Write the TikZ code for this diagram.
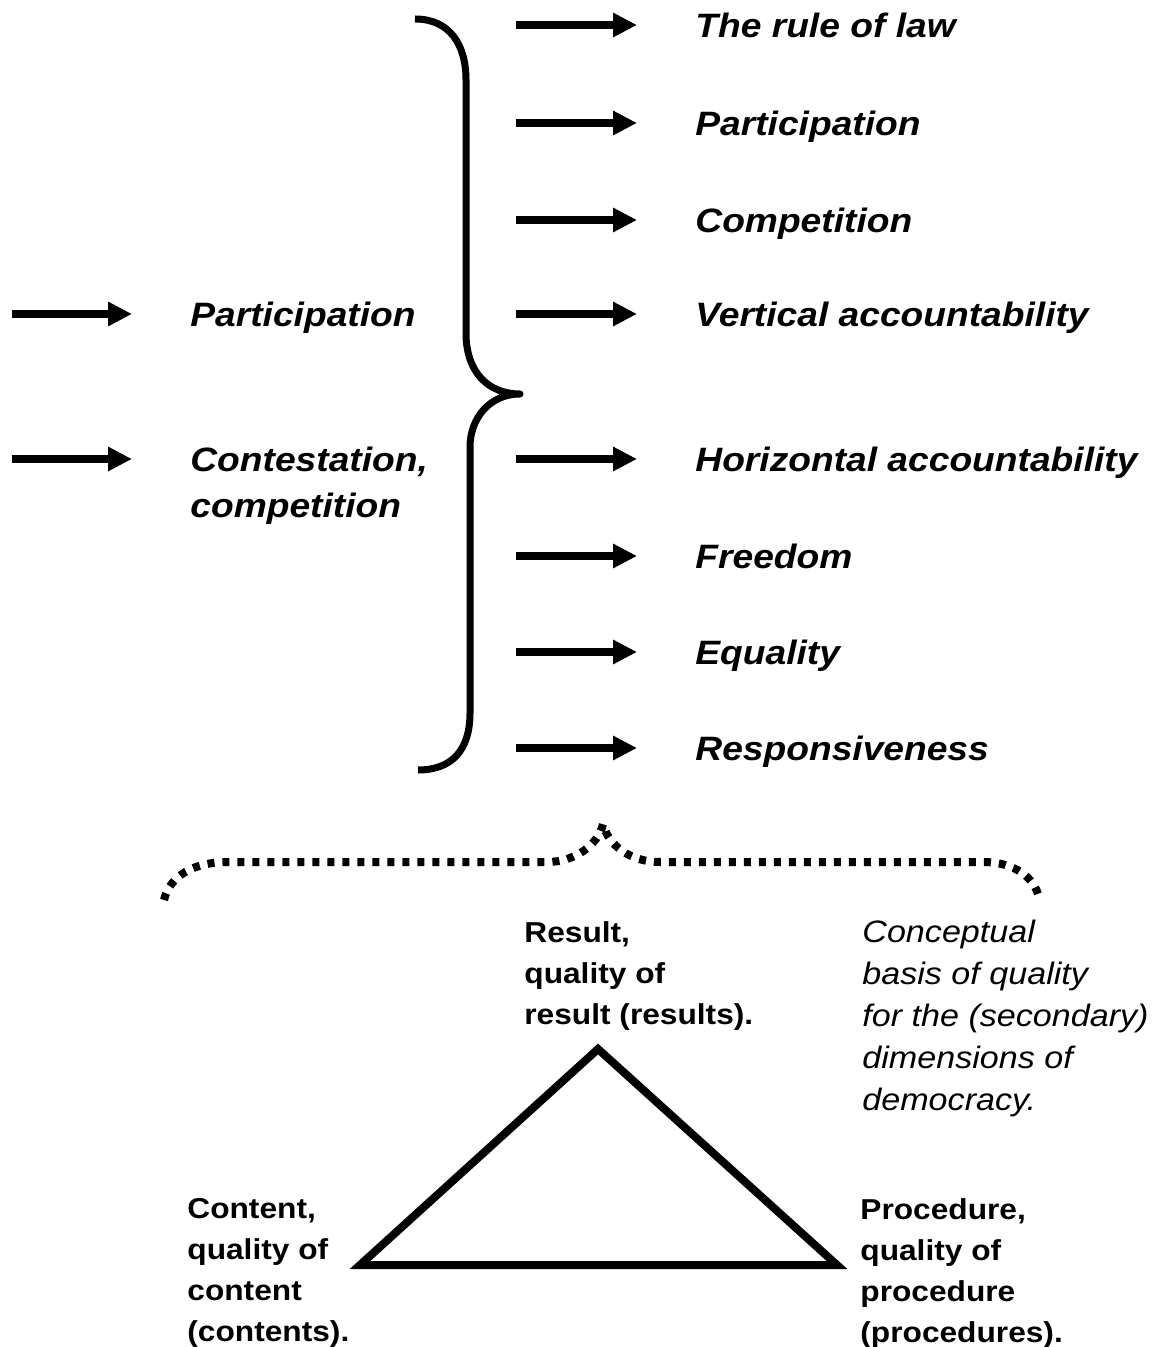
\documentclass[tikz,border=0pt]{standalone}
\usepackage{fontspec}
\setmainfont{Liberation Sans}[FakeStretch=1.1]
\usetikzlibrary{arrows.meta}
\tikzset{
	arr/.style={line width=4pt, -{Triangle[length=12pt,width=11.5pt]}, shorten >=29pt},
	dim/.style={anchor=west, inner sep=0pt, text height=12.1pt, text depth=0pt, font=\fontsize{16.9}{23}\selectfont\bfseries\itshape},
	dimtwo/.style={anchor=north west, inner sep=0pt, align=left, font=\fontsize{16.9}{23}\selectfont\bfseries\itshape},
	corner/.style={anchor=north west, inner sep=0pt, align=left, font=\fontsize{14.4}{20.5}\selectfont\bfseries},
	note/.style={anchor=north west, inner sep=0pt, align=left, font=\fontsize{15.5}{21}\selectfont\itshape},
	brace/.style={line width=3.5pt, line join=round},
	dotbrace/.style={line width=4pt, dash pattern=on 3.5pt off 4pt},
	tri/.style={line width=4pt, line join=miter}
}

\begin{document}
\begin{tikzpicture}[x=0.5pt,y=-0.5pt]
			%%%%% START %%%%%
			\useasboundingbox (0,0) rectangle (1158,1347);
			
			% left column
			\coordinate (inpart) at (12,314);
			\coordinate (incont) at (12,459);
			\node[dim] (part) at (190,314) {Participation};
			\node[dimtwo] (cont) at (190,447) {Contestation,\\competition};
			\draw[arr] (inpart) -- (part.west);
			\draw[arr] (incont) -- (incont -| cont.west);
			
			% big brace
			\draw[brace] (415,19) .. controls (450,19) and (466,45) .. (466,80) -- (466,333)
				.. controls (466,372) and (488,394) .. (520,394)
				.. controls (490,394) and (470,418) .. (470,447) -- (470,713)
				.. controls (470,750) and (452,770) .. (418,770);
			
			% right column
			\coordinate (out1) at (516,25);
			\coordinate (out2) at (516,123);
			\coordinate (out3) at (516,220);
			\coordinate (out4) at (516,314);
			\coordinate (out5) at (516,459);
			\coordinate (out6) at (516,556);
			\coordinate (out7) at (516,652);
			\coordinate (out8) at (516,748);
			\node[dim] (law) at (695,25) {The rule of law};
			\node[dim] (particip) at (695,123) {Participation};
			\node[dim] (compet) at (695,220) {Competition};
			\node[dim] (vert) at (695,314) {Vertical accountability};
			\node[dim] (horiz) at (695,459) {Horizontal accountability};
			\node[dim] (free) at (695,556) {Freedom};
			\node[dim] (equal) at (695,652) {Equality};
			\node[dim] (respons) at (695,748) {Responsiveness};
			\draw[arr] (out1) -- (law.west);
			\draw[arr] (out2) -- (particip.west);
			\draw[arr] (out3) -- (compet.west);
			\draw[arr] (out4) -- (vert.west);
			\draw[arr] (out5) -- (horiz.west);
			\draw[arr] (out6) -- (free.west);
			\draw[arr] (out7) -- (equal.west);
			\draw[arr] (out8) -- (respons.west);
			
			% dotted brace
			\draw[dotbrace] (164,900) .. controls (170,875) and (195,862) .. (228,862) -- (547,862)
				.. controls (575,862) and (598,845) .. (603,824)
				.. controls (608,845) and (630,862) .. (660,862) -- (983,862)
				.. controls (1015,862) and (1035,878) .. (1039,898);
			
			% triangle
			\coordinate (top) at (598,1049);
			\coordinate (left) at (360,1265);
			\coordinate (right) at (837,1265);
			\draw[tri] (top) -- (left) -- (right) -- cycle;
			
			\node[corner] (result) at (524,921) {Result,\\quality of\\result (results).};
			\node[note] (basis) at (862,920) {Conceptual\\basis of quality\\for the (secondary)\\dimensions of\\democracy.};
			\node[corner] (content) at (187,1198) {Content,\\quality of\\content\\(contents).};
			\node[corner] (proced) at (860,1198) {Procedure,\\quality of\\procedure\\(procedures).};
			
			%%%%% END %%%%%
		\end{tikzpicture}
\end{document}
